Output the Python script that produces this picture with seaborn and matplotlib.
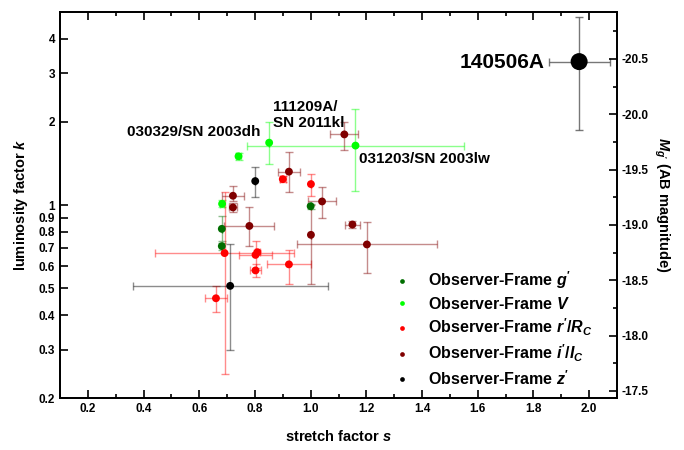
import numpy as np
import pandas as pd
import matplotlib
matplotlib.use("Agg")
import matplotlib.pyplot as plt
import matplotlib.ticker as mticker
import seaborn as sns

# ---------------- data ----------------
bands = ["g'", "V", "r'/R_C", "i'/I_C", "z'"]
band_labels = [r"Observer-Frame $g'$", r"Observer-Frame $V$",
               r"Observer-Frame $r'/R_C$", r"Observer-Frame $i'/I_C$",
               r"Observer-Frame $z'$"]
band_colors = ["#006e00", "#00ff00", "#ff0000", "#800000", "#000000"]

g_s = [1.00, 0.681, 0.681]
g_k = [0.99, 0.82, 0.71]
g_serr = [0.0, 0.0, 0.0]
g_klo = [0.02, 0.08, 0.02]
g_khi = [0.02, 0.09, 0.02]

V_s = [0.851, 1.161, 0.741, 0.682]
V_k = [1.68, 1.64, 1.50, 1.01]
V_serr = [0.0, 0.39, 0.008, 0.008]
V_klo = [0.27, 0.52, 0.04, 0.03]
V_khi = [0.32, 0.59, 0.04, 0.03]

r_s = [0.900, 1.001, 0.691, 0.802, 0.809, 0.802, 0.922, 0.660]
r_k = [1.24, 1.19, 0.67, 0.66, 0.675, 0.58, 0.61, 0.46]
r_serr = [0.01, 0.0, 0.25, 0.06, 0.01, 0.018, 0.08, 0.04]
r_klo = [0.03, 0.11, 0.425, 0.07, 0.01, 0.03, 0.09, 0.05]
r_khi = [0.03, 0.10, 0.44, 0.08, 0.01, 0.03, 0.08, 0.05]

i_s = [1.121, 0.922, 0.721, 0.721, 1.041, 1.150, 1.202, 0.780, 1.001]
i_k = [1.80, 1.32, 1.08, 0.98, 1.03, 0.85, 0.72, 0.84, 0.78]
i_serr = [0.05, 0.04, 0.04, 0.013, 0.05, 0.027, 0.25, 0.09, 0.0]
i_klo = [0.22, 0.21, 0.05, 0.04, 0.13, 0.025, 0.15, 0.13, 0.26]
i_khi = [0.20, 0.23, 0.09, 0.04, 0.13, 0.025, 0.15, 0.14, 0.22]

z_s = [0.801, 0.711]
z_k = [1.22, 0.51]
z_serr = [0.0, 0.35]
z_klo = [0.15, 0.21]
z_khi = [0.15, 0.21]

grb_name = "140506A"
grb_s = [1.964]
grb_k = [3.30]
grb_slo = [0.107]
grb_shi = [0.11]
grb_klo = [1.44]
grb_khi = [1.48]

sn_labels = ["030329/SN 2003dh", "111209A/\nSN 2011kl", "031203/SN 2003lw"]

M_at_k1 = -19.18  # absolute magnitude corresponding to k = 1

x_ticks = [0.2, 0.4, 0.6, 0.8, 1.0, 1.2, 1.4, 1.6, 1.8, 2.0]
y_ticks = [0.2, 0.3, 0.4, 0.5, 0.6, 0.7, 0.8, 0.9, 1, 2, 3, 4]
y_ticklabels = ["0.2", "0.3", "0.4", "0.5", "0.6", "0.7", "0.8", "0.9", "1", "2", "3", "4"]
m_ticks = [-20.5, -20.0, -19.5, -19.0, -18.5, -18.0, -17.5]

# ---------------- assemble ----------------
series = [
    (g_s, g_k, g_serr, g_klo, g_khi),
    (V_s, V_k, V_serr, V_klo, V_khi),
    (r_s, r_k, r_serr, r_klo, r_khi),
    (i_s, i_k, i_serr, i_klo, i_khi),
    (z_s, z_k, z_serr, z_klo, z_khi),
]
rows = []
for lab, (s, k, se, kl, kh) in zip(band_labels, series):
    for a, b, c, d, e in zip(s, k, se, kl, kh):
        rows.append(dict(s=a, k=b, serr=c, klo=d, khi=e, band=lab))
df = pd.DataFrame(rows)

sns.set_theme(style="ticks")
plt.rcParams["font.family"] = ["Liberation Sans", "DejaVu Sans"]
plt.rcParams["font.weight"] = "bold"
plt.rcParams["mathtext.fontset"] = "custom"
plt.rcParams["mathtext.rm"] = "Liberation Sans:bold"
plt.rcParams["mathtext.it"] = "Liberation Sans:italic:bold"
plt.rcParams["mathtext.bf"] = "Liberation Sans:bold"
plt.rcParams["axes.unicode_minus"] = False
for key in ["text.color", "axes.labelcolor", "xtick.color", "ytick.color",
            "axes.edgecolor"]:
    plt.rcParams[key] = "black"

fig = plt.figure(figsize=(6.84, 4.5), dpi=100)
ax = fig.add_axes([60/684, 1-398.3/450, (617-60)/684, (398.3-11.7)/450])

# error bars
for lab, col in zip(band_labels, band_colors):
    sub = df[df.band == lab]
    ax.errorbar(sub.s, sub.k, xerr=sub.serr, yerr=[sub.klo, sub.khi],
                fmt="none", ecolor=col, alpha=0.45, elinewidth=1.0,
                capsize=3, capthick=1.0, zorder=2)

sns.scatterplot(data=df, x="s", y="k", hue="band", hue_order=band_labels,
                palette=dict(zip(band_labels, band_colors)), s=32,
                edgecolor="none", linewidth=0, ax=ax, zorder=3)

ax.errorbar(grb_s, grb_k, xerr=[grb_slo, grb_shi], yerr=[grb_klo, grb_khi],
            fmt="none", ecolor="#555555", alpha=0.8, elinewidth=1.0,
            capsize=3, capthick=1.0, zorder=2)
sns.scatterplot(x=grb_s, y=grb_k, color="black", s=150, edgecolor="none",
                ax=ax, zorder=4, legend=False)

# annotations
ax.text(0.821, 1.83, sn_labels[0], ha="right", va="center", fontsize=11, fontweight="bold")
ax.text(0.864, 2.12, sn_labels[1], ha="left", va="center", fontsize=11,
        fontweight="bold", linespacing=1.15)
ax.text(1.175, 1.47, sn_labels[2], ha="left", va="center", fontsize=11, fontweight="bold")
ax.text(1.839, 3.28, grb_name, ha="right", va="center", fontsize=15, fontweight="bold")

# axes
ax.set_yscale("log")
ax.set_xlim(0.1, 2.1)
ax.set_ylim(0.2, 5)
ax.xaxis.set_major_locator(mticker.FixedLocator(x_ticks))
ax.xaxis.set_minor_locator(mticker.MultipleLocator(0.1))
ax.xaxis.set_major_formatter(mticker.FormatStrFormatter("%.1f"))
ax.yaxis.set_major_locator(mticker.FixedLocator(y_ticks))
ax.yaxis.set_major_formatter(mticker.FixedFormatter(y_ticklabels))
ax.yaxis.set_minor_locator(mticker.NullLocator())
ax.tick_params(axis="x", which="both", direction="in", top=True, bottom=True,
               labelsize=8.5, width=1.2)
ax.tick_params(axis="x", which="major", length=6)
ax.tick_params(axis="x", which="minor", length=3)
ax.tick_params(axis="y", which="major", direction="in", left=True, right=False,
               length=6, width=1.2, labelsize=8.5)
for lbl in ax.get_xticklabels() + ax.get_yticklabels():
    lbl.set_fontweight("bold")
for sp in ax.spines.values():
    sp.set_linewidth(1.3)
    sp.set_visible(True)
    sp.set_color("black")

ax.set_xlabel(r"stretch factor $s$", fontsize=10.5, fontweight="bold", labelpad=10)
ax.set_ylabel(r"luminosity factor $k$", fontsize=10.5, fontweight="bold", labelpad=6)

ax2 = ax.twinx()
ax2.set_ylim(M_at_k1 - 2.5*np.log10(0.2), M_at_k1 - 2.5*np.log10(5))
ax2.yaxis.set_major_locator(mticker.FixedLocator(m_ticks))
ax2.yaxis.set_minor_locator(mticker.MultipleLocator(0.25))
ax2.yaxis.set_major_formatter(mticker.FormatStrFormatter("%.1f"))
ax2.tick_params(axis="y", which="both", direction="in", width=1.2, labelsize=8.5)
ax2.tick_params(axis="y", which="major", length=6)
ax2.tick_params(axis="y", which="minor", length=3)
for lbl in ax2.get_yticklabels():
    lbl.set_fontweight("bold")
ax2.set_ylabel(r"$M_{g'}$ (AB magnitude)", fontsize=10.5, fontweight="bold",
               rotation=270, labelpad=16)
for sp in ax2.spines.values():
    sp.set_linewidth(1.3)

leg = ax.legend(loc="lower right", bbox_to_anchor=(0.981, -0.01), frameon=False,
                fontsize=11.5, markerscale=0.6, handletextpad=1.1,
                labelspacing=0.3, handlelength=1.0)
for t in leg.get_texts():
    t.set_fontweight("bold")

fig.savefig("out.png", dpi=100)
